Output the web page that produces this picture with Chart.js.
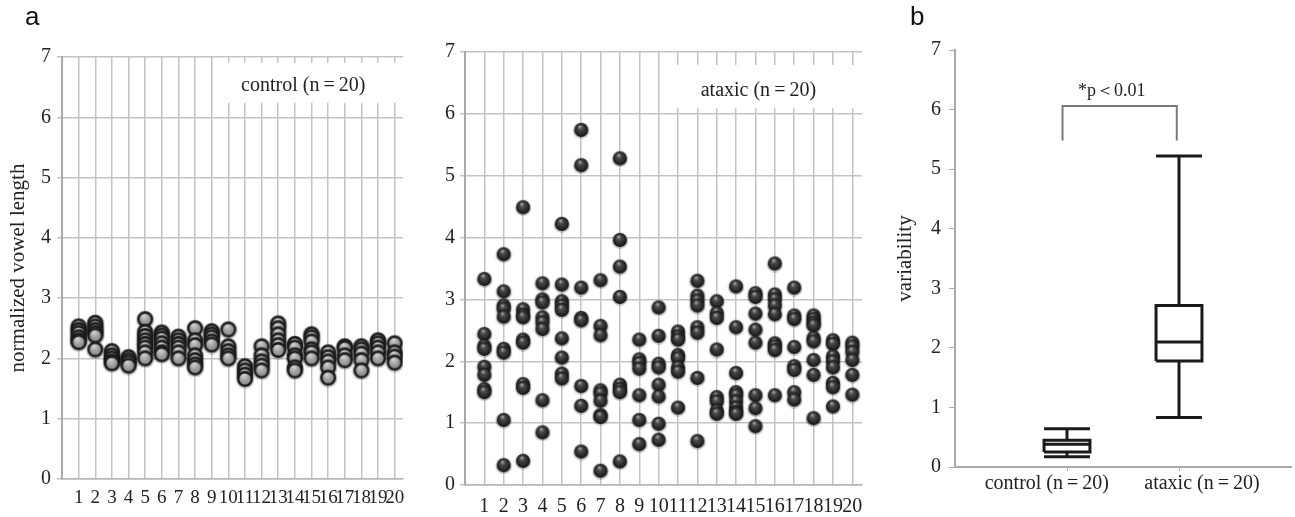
<!DOCTYPE html>
<html><head><meta charset="utf-8">
<script src="https://cdn.jsdelivr.net/npm/chart.js@4.4.1/dist/chart.umd.min.js"></script>
<style>
html,body{margin:0;padding:0;background:#fff;}
#wrap{position:relative;width:1295px;height:517px;overflow:hidden;background:#fff;}
#wrap canvas{position:absolute;top:0;}
</style></head><body>
<div id="wrap">
<canvas id="cA" width="430" height="517" style="left:0px"></canvas>
<canvas id="cB" width="440" height="517" style="left:430px"></canvas>
<canvas id="cC" width="435" height="517" style="left:860px"></canvas>
</div>
<script>
// ---------- data ----------
const subjects = [1,2,3,4,5,6,7,8,9,10,11,12,13,14,15,16,17,18,19,20];
const yTicks = [0,1,2,3,4,5,6,7];

const controlBySubject = [
  [2.53, 2.47, 2.42, 2.35, 2.30, 2.27],
  [2.59, 2.53, 2.47, 2.42, 2.38, 2.15],
  [2.12, 2.05, 2.00, 1.95, 1.92],
  [2.02, 1.97, 1.93, 1.88],
  [2.65, 2.44, 2.37, 2.30, 2.24, 2.18, 2.10, 2.00],
  [2.43, 2.38, 2.33, 2.25, 2.18, 2.10, 2.07],
  [2.36, 2.30, 2.24, 2.18, 2.10, 2.00],
  [2.50, 2.30, 2.22, 2.05, 1.97, 1.90, 1.85],
  [2.45, 2.40, 2.35, 2.28, 2.23],
  [2.48, 2.20, 2.12, 2.05, 2.00],
  [1.87, 1.80, 1.73, 1.66],
  [2.20, 2.05, 1.95, 1.88, 1.80],
  [2.58, 2.50, 2.40, 2.30, 2.22, 2.14],
  [2.24, 2.18, 2.05, 2.00, 1.85, 1.80],
  [2.40, 2.35, 2.28, 2.15, 2.10, 2.00],
  [2.10, 2.02, 1.95, 1.85, 1.68],
  [2.20, 2.17, 2.05, 1.97],
  [2.20, 2.15, 2.08, 1.97, 1.80],
  [2.30, 2.25, 2.18, 2.10, 2.00],
  [2.25, 2.10, 2.03, 1.93]
];

const ataxicBySubject = [
  [3.33, 2.44, 2.25, 2.20, 1.91, 1.78, 1.55, 1.50],
  [3.73, 3.13, 2.90, 2.85, 2.72, 2.20, 2.14, 1.05, 0.32],
  [4.49, 2.84, 2.75, 2.71, 2.35, 2.30, 1.63, 1.57, 0.39],
  [3.26, 3.00, 2.95, 2.71, 2.63, 2.52, 1.37, 0.85],
  [4.22, 3.24, 2.97, 2.90, 2.83, 2.37, 2.06, 1.80, 1.72],
  [5.74, 5.17, 3.19, 2.70, 2.66, 1.60, 1.28, 0.54],
  [3.31, 2.57, 2.42, 1.53, 1.48, 1.36, 1.13, 1.10, 0.23],
  [5.28, 3.96, 3.53, 3.04, 1.62, 1.55, 1.50, 0.38],
  [2.35, 2.03, 1.97, 1.88, 1.45, 1.05, 0.66],
  [2.87, 2.41, 1.96, 1.90, 1.62, 1.43, 0.99, 0.73],
  [2.48, 2.40, 2.35, 2.10, 2.05, 1.90, 1.83, 1.25],
  [3.30, 3.06, 2.98, 2.90, 2.55, 2.46, 1.73, 0.71],
  [2.97, 2.78, 2.70, 2.19, 1.42, 1.35, 1.20, 1.15],
  [3.21, 2.55, 1.81, 1.50, 1.45, 1.35, 1.25, 1.18, 1.15],
  [3.10, 3.04, 2.77, 2.51, 2.30, 1.45, 1.24, 0.95],
  [3.58, 3.08, 3.00, 2.90, 2.76, 2.29, 2.24, 2.18, 1.45],
  [3.19, 2.74, 2.68, 2.23, 1.92, 1.86, 1.50, 1.38],
  [2.74, 2.68, 2.62, 2.58, 2.38, 2.32, 2.02, 1.78, 1.08],
  [2.34, 2.28, 2.08, 2.00, 1.90, 1.65, 1.58, 1.27],
  [2.30, 2.24, 2.15, 2.02, 1.78, 1.46]
];

// box plot (panel b): [min, q1, median, q3, max]
const groupLabels = ['control (n\u2009=\u200920)', 'ataxic (n\u2009=\u200920)'];
const groupPositions = [1, 2];
const groupLabelPositions = [0.82, 2.205];
const controlBoxStats = [0.17, 0.25, 0.38, 0.45, 0.64];
const ataxicBoxStats  = [0.83, 1.78, 2.10, 2.71, 5.22];
const bracketX = [0.96, 1.98];
const bracketY = [5.48, 6.06];
const pText = '*p\uFF1C0.01';

// ---------- helpers ----------
const SERIF = "'Liberation Serif','Times New Roman',serif";
Chart.defaults.font.family = SERIF;
Chart.defaults.color = '#222';

function makeSphere(d, stops, stroke, strokeW, shadow) {
  const s = d + 4, c = document.createElement('canvas');
  c.width = s; c.height = s;
  const g = c.getContext('2d'), cx = s / 2, cy = s / 2, r = d / 2;
  if (shadow) { g.beginPath(); g.arc(cx, cy + 0.6, r + 1.4, 0, Math.PI * 2); g.fillStyle = shadow; g.fill(); }
  const grad = g.createRadialGradient(cx - r * 0.2, cy - r * 0.5, r * 0.05, cx, cy, r);
  stops.forEach(([o, col]) => grad.addColorStop(o, col));
  g.beginPath(); g.arc(cx, cy, r - (strokeW || 0) / 2, 0, Math.PI * 2);
  g.fillStyle = grad; g.fill();
  if (strokeW) { g.lineWidth = strokeW; g.strokeStyle = stroke; g.stroke(); }
  return c;
}
const grayBall = makeSphere(16, [[0, '#d4d4d4'], [0.5, '#a0a0a0'], [1, '#7a7a7a']], '#1c1c1c', 2.4, 'rgba(0,0,0,0.2)');
const darkBall = makeSphere(14, [[0, '#a8a8a8'], [0.3, '#4a4a4a'], [1, '#141414']], null, 0, 'rgba(0,0,0,0.2)');

function toPoints(groups) {
  const pts = [];
  groups.forEach((vals, i) => vals.forEach(v => pts.push({ x: subjects[i], y: v })));
  return pts;
}
function fixW(w) { return s => { s.width = w; s.paddingTop = 0; s.paddingBottom = 0; s.paddingLeft = 0; s.paddingRight = 0; }; }
function fixH(h) { return s => { s.height = h; s.paddingTop = 0; s.paddingBottom = 0; s.paddingLeft = 0; s.paddingRight = 0; }; }
const setTicks = arr => s => { s.ticks = arr.map(v => ({ value: v })); };

function boxLabel(id, text, x0, x1, y0, y1, tx, ty) {
  return {
    id,
    beforeDatasetsDraw(chart) {
      const { ctx, scales: { x, y } } = chart;
      const L = x.getPixelForValue(x0), R = x.getPixelForValue(x1);
      const T = y.getPixelForValue(y1), B = y.getPixelForValue(y0);
      ctx.save();
      ctx.fillStyle = '#fff'; ctx.fillRect(L, T, R - L, B - T);
      ctx.fillStyle = '#222'; ctx.font = '20px ' + SERIF;
      ctx.textAlign = 'center'; ctx.textBaseline = 'middle';
      ctx.fillText(text, x.getPixelForValue(tx), y.getPixelForValue(ty));
      ctx.restore();
    }
  };
}
function letter(id, ch, px, py) {
  return { id, afterDraw(chart) { const c = chart.ctx; c.save(); c.font = "26px 'Liberation Sans',Arial,sans-serif"; c.fillStyle = '#111'; c.textBaseline = 'alphabetic'; c.fillText(ch, px, py); c.restore(); } };
}

const gridGray = '#c3c3c3';

function dotPanel(canvasId, points, ball, xMax, yWidth, xHeight, pad, tickFont, xPad, yPad, title, plugins) {
  return new Chart(document.getElementById(canvasId), {
    type: 'scatter',
    data: { datasets: [{ data: points, pointStyle: ball, pointRadius: 7, pointHoverRadius: 7 }] },
    options: {
      responsive: false, animation: false, events: [],
      layout: { padding: pad },
      plugins: { legend: { display: false }, tooltip: { enabled: false } },
      scales: {
        x: {
          type: 'linear', min: 0, max: xMax,
          afterBuildTicks: setTicks([0].concat(subjects)),
          afterFit: fixH(xHeight),
          grid: { color: gridGray, lineWidth: 1.5, drawTicks: false },
          border: { color: '#b5b5b5', width: 1.5 },
          ticks: { autoSkip: false, maxRotation: 0, minRotation: 0, padding: xPad, font: { size: tickFont },
                   callback: v => (v === 0 ? '' : String(v)) }
        },
        y: {
          min: 0, max: 7,
          afterBuildTicks: setTicks(yTicks),
          afterFit: fixW(yWidth),
          grid: { color: gridGray, lineWidth: 1.5, drawTicks: true, tickLength: 5, tickColor: gridGray },
          border: { color: '#a9a9a9', width: 2 },
          ticks: { padding: yPad, font: { size: 20 } },
          title: title
        }
      }
    },
    plugins: plugins
  });
}

// ---------- panel a (control) ----------
dotPanel('cA', toPoints(controlBySubject), grayBall, 20.5, 62, 38,
  { left: 0, top: 57, right: 27, bottom: 0 }, 19, 8, 6,
  { display: true, text: 'normalized vowel length', font: { size: 21 }, padding: { top: 6, bottom: 0 } },
  [boxLabel('lblA', 'control (n\u2009=\u200920)', 9.5, 20.5, 6.24, 6.9, 14.5, 6.52), letter('la', 'a', 25, 25)]);

// ---------- panel a (ataxic) ----------
dotPanel('cB', toPoints(ataxicBySubject), darkBall, 20.5, 35, 32,
  { left: 0, top: 52, right: 7.3, bottom: 0 }, 20, 10, 5,
  { display: false },
  [boxLabel('lblB', 'ataxic (n\u2009=\u200920)', 10.5, 20.5, 6.09, 6.79, 15.15, 6.38)]);

// ---------- panel b (box plot) ----------
const halfW = 0.205;
function boxDatasets(stats, c) {
  const [mn, q1, md, q3, mx] = stats;
  const st = { showLine: true, borderColor: '#1a1a1a', borderWidth: 3, pointRadius: 0, borderJoinStyle: 'miter', borderCapStyle: 'butt' };
  return [
    { ...st, data: [{ x: c - halfW, y: q1 }, { x: c + halfW, y: q1 }, { x: c + halfW, y: q3 }, { x: c - halfW, y: q3 }, { x: c - halfW, y: q1 }] },
    { ...st, data: [{ x: c - halfW, y: md }, { x: c + halfW, y: md }] },
    { ...st, data: [{ x: c, y: q3 }, { x: c, y: mx }] },
    { ...st, data: [{ x: c, y: q1 }, { x: c, y: mn }] },
    { ...st, data: [{ x: c - halfW, y: mx }, { x: c + halfW, y: mx }] },
    { ...st, data: [{ x: c - halfW, y: mn }, { x: c + halfW, y: mn }] }
  ];
}
const bracketDs = {
  showLine: true, borderColor: '#7a7a7a', borderWidth: 2, pointRadius: 0, borderJoinStyle: 'miter',
  data: [{ x: bracketX[0], y: bracketY[0] }, { x: bracketX[0], y: bracketY[1] }, { x: bracketX[1], y: bracketY[1] }, { x: bracketX[1], y: bracketY[0] }]
};
const annot = {
  id: 'annot',
  afterDatasetsDraw(chart) {
    const { ctx, scales: { x, y } } = chart;
    ctx.save(); ctx.fillStyle = '#222';
    ctx.textAlign = 'center'; ctx.textBaseline = 'middle';
    ctx.font = '18px ' + SERIF;
    ctx.fillText(pText, x.getPixelForValue(1.40), y.getPixelForValue(6.3));
    ctx.font = '20px ' + SERIF;
    groupLabels.forEach((t, i) => ctx.fillText(t, x.getPixelForValue(groupLabelPositions[i]), y.bottom + 17));
    ctx.restore();
  }
};

new Chart(document.getElementById('cC'), {
  type: 'scatter',
  data: { datasets: [bracketDs].concat(boxDatasets(controlBoxStats, groupPositions[0]), boxDatasets(ataxicBoxStats, groupPositions[1])) },
  options: {
    responsive: false, animation: false, events: [],
    layout: { padding: { left: 25, top: 50, right: 4, bottom: 0 } },
    plugins: { legend: { display: false }, tooltip: { enabled: false } },
    scales: {
      x: {
        type: 'linear', min: 0, max: 3,
        afterBuildTicks: setTicks(groupPositions),
        afterFit: fixH(50),
        grid: { drawOnChartArea: false, drawTicks: true, tickLength: 4, color: '#a9a9a9', tickColor: '#a9a9a9' },
        border: { color: '#a9a9a9', width: 2 },
        ticks: { display: false }
      },
      y: {
        min: 0, max: 7,
        afterBuildTicks: setTicks(yTicks),
        afterFit: fixW(70),
        grid: { drawOnChartArea: false, drawTicks: true, tickLength: 6, color: '#a9a9a9', tickColor: '#a9a9a9' },
        border: { color: '#a9a9a9', width: 2 },
        ticks: { padding: 8, font: { size: 20 } },
        title: { display: true, text: 'variability', font: { size: 21 }, padding: { top: 8, bottom: 0 } }
      }
    }
  },
  plugins: [annot, letter('lb', 'b', 50, 25)]
});
</script>
</body></html>
